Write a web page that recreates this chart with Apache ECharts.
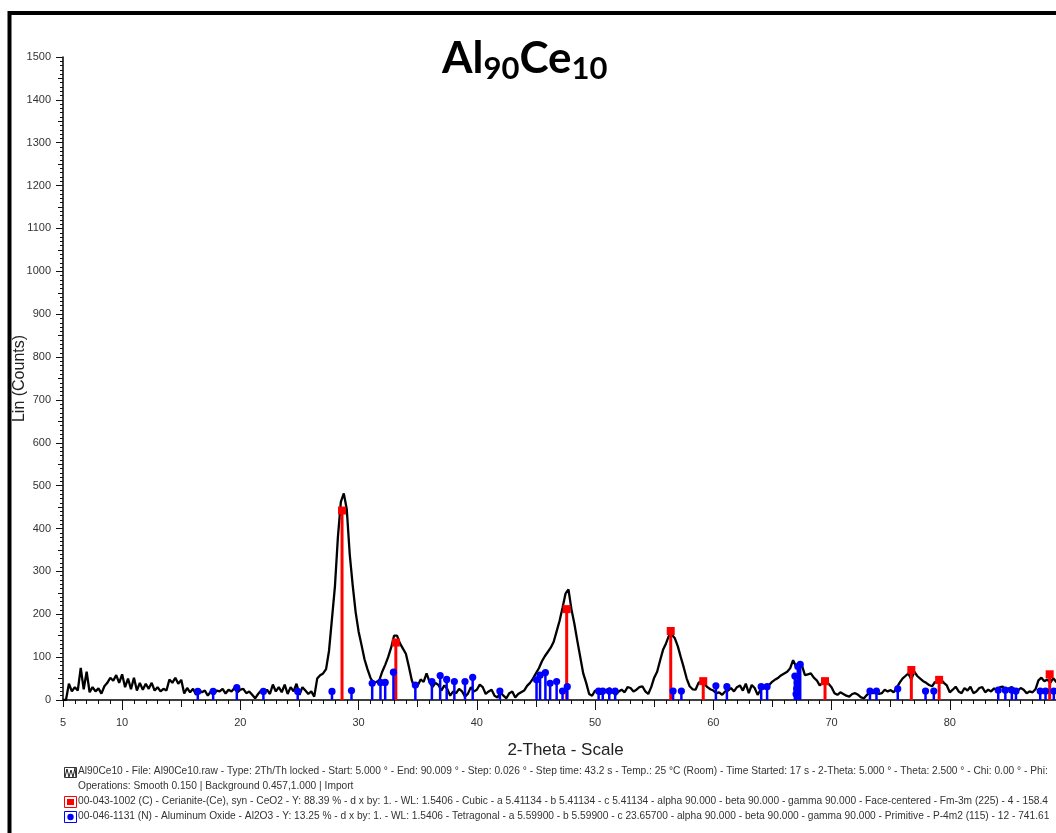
<!DOCTYPE html>
<html>
<head>
<meta charset="utf-8">
<script src="https://cdn.jsdelivr.net/npm/echarts@6/dist/echarts.min.js"></script>
<style>
html, body { margin: 0; padding: 0; background: #fff; }
#chart { width: 1056px; height: 833px; }
</style>
</head>
<body>
<div id="chart"></div>
<script>
// measured scan: 2-theta from scanStart in steps of scanStep
var scanStart = 5
var scanStep = 0.25
var scanCounts = [
    0, 0, 38, 20,        // 5
    30, 22, 75, 25,      // 6
    66, 18, 30, 20,      // 7
    27, 15, 32, 40,      // 8
    52, 45, 58, 40,      // 9
    60, 30, 50, 25,      // 10
    52, 22, 40, 24,      // 11
    38, 26, 40, 22,      // 12
    30, 20, 26, 22,      // 13
    48, 40, 52, 38,      // 14
    47, 15, 28, 18,      // 15
    26, 12, 24, 18,      // 16
    22, 10, 20, 14,      // 17
    22, 20, 26, 15,      // 18
    24, 20, 28, 18,      // 19
    24, 26, 16, 20,      // 20
    12, 4, 14, 22,       // 21
    16, 24, 14, 36,      // 22
    20, 30, 18, 36,      // 23
    14, 30, 20, 38,      // 24
    12, 30, 22, 14,      // 25
    20, 8, 50, 58,       // 26
    62, 72, 115, 190,    // 27
    265, 380, 462, 482,  // 28
    445, 340, 268, 205,  // 29
    160, 128, 95, 72,    // 30
    52, 40, 42, 46,      // 31
    66, 82, 100, 122,    // 32
    150, 150, 132, 120,  // 33
    108, 78, 46, 28,     // 34
    34, 48, 42, 62,      // 35
    42, 30, 40, 35,      // 36
    22, 34, 26, 10,      // 37
    20, 16, 26, 20,      // 38
    8, 15, 30, 20,       // 39
    24, 36, 30, 14,      // 40
    20, 24, 10, 6,       // 41
    18, 10, 4, 16,       // 42
    20, 6, 14, 18,       // 43
    22, 33, 40, 50,      // 44
    62, 74, 90, 102,     // 45
    112, 122, 136, 160,  // 46
    185, 215, 248, 258,  // 47
    212, 178, 138, 100,  // 48
    62, 40, 14, 10,      // 49
    22, 18, 14, 20,      // 50
    24, 27, 18, 12,      // 51
    20, 24, 18, 30,      // 52
    28, 20, 24, 30,      // 53
    32, 20, 14, 30,      // 54
    52, 66, 92, 117,     // 55
    132, 150, 152, 144,  // 56
    125, 100, 76, 50,    // 57
    32, 25, 24, 40,      // 58
    44, 38, 30, 25,      // 59
    22, 16, 18, 12,      // 60
    20, 22, 28, 20,      // 61
    30, 34, 22, 38,      // 62
    16, 35, 28, 12,      // 63
    24, 27, 31, 36,      // 64
    43, 48, 52, 58,      // 65
    62, 66, 74, 93,      // 66
    78, 84, 80, 58,      // 67
    60, 62, 52, 46,      // 68
    34, 40, 44, 38,      // 69
    30, 16, 12, 18,      // 70
    14, 10, 8, 14,       // 71
    16, 12, 6, 4,        // 72
    12, 19, 16, 20,      // 73
    14, 16, 24, 20,      // 74
    23, 18, 28, 40,      // 75
    50, 56, 62, 48,      // 76
    66, 56, 50, 44,      // 77
    40, 35, 32, 42,      // 78
    40, 48, 40, 34,      // 79
    18, 24, 31, 20,      // 80
    16, 28, 22, 31,      // 81
    16, 20, 28, 30,      // 82
    18, 24, 20, 27,      // 83
    22, 30, 31, 22,      // 84
    27, 30, 19, 22,      // 85
    28, 24, 16, 20,      // 86
    18, 25, 46, 52,      // 87
    44, 48, 40, 51,      // 88
    42, 46, 38, 44,      // 89
    40                   // 90
]

// 00-043-1002 Cerianite (CeO2) reference lines
var ceriaAngles  = [28.6, 33.15, 47.6, 56.4, 59.15, 69.45, 76.75, 79.1, 88.45]
var ceriaHeights = [442, 134, 212, 161, 44, 44, 70, 47, 60]

// 00-046-1131 Aluminum oxide (Al2O3) reference lines
var aluminaAngles = [16.4, 17.7, 19.7, 21.95, 24.85, 27.75, 29.4, 31.15, 31.85, 32.25,
    32.95, 34.8, 36.2, 36.9, 37.45, 38.1, 39.0, 39.65, 41.95, 45.05,
    45.35, 45.8, 46.2, 46.75, 47.25, 47.65, 50.3, 50.65, 51.2, 51.7,
    56.6, 57.3, 60.22, 61.15, 64.05, 64.55, 66.9, 67.0, 67.05, 67.1,
    67.15, 67.35, 73.25, 73.8, 75.6, 77.95, 78.65, 84.1, 84.7, 85.25,
    85.6, 87.65, 88.1, 88.8]
var aluminaHeights = [20, 20, 29, 20, 20, 20, 22, 39, 41, 41,
    65, 35, 43, 57, 48, 43, 43, 53, 21, 47,
    58, 64, 39, 43, 21, 31, 21, 21, 21, 21,
    21, 21, 33, 31, 31, 31, 56, 14, 26, 40,
    78, 83, 21, 21, 26, 21, 21, 23, 23, 23,
    21, 21, 21, 21]

var xLabelValues = [5, 10, 20, 30, 40, 50, 60, 70, 80, 90]
var xMajorTicks = [10, 20, 30, 40, 50, 60, 70, 80, 90]
var xMidTicks = [5, 15, 25, 35, 45, 55, 65, 75, 85]
var yMidTicks = [50, 150, 250, 350, 450, 550, 650, 750, 850, 950, 1050, 1150, 1250, 1350, 1450]

var legendLines = [
    "Al90Ce10 - File: Al90Ce10.raw - Type: 2Th/Th locked - Start: 5.000 \u00b0 - End: 90.009 \u00b0 - Step: 0.026 \u00b0 - Step time: 43.2 s - Temp.: 25 \u00b0C (Room) - Time Started: 17 s - 2-Theta: 5.000 \u00b0 - Theta: 2.500 \u00b0 - Chi: 0.00 \u00b0 - Phi:",
    "Operations: Smooth 0.150 | Background 0.457,1.000 | Import",
    "00-043-1002 (C) - Cerianite-(Ce), syn - CeO2 - Y: 88.39 % - d x by: 1. - WL: 1.5406 - Cubic - a 5.41134 - b 5.41134 - c 5.41134 - alpha 90.000 - beta 90.000 - gamma 90.000 - Face-centered - Fm-3m (225) - 4 - 158.4",
    "00-046-1131 (N) - Aluminum Oxide - Al2O3 - Y: 13.25 % - d x by: 1. - WL: 1.5406 - Tetragonal - a 5.59900 - b 5.59900 - c 23.65700 - alpha 90.000 - beta 90.000 - gamma 90.000 - Primitive - P-4m2 (115) - 12 - 741.61"
]

var scanData = []
for (var i = 0; i < scanCounts.length; i++) {
    scanData.push([scanStart + i * scanStep, scanCounts[i]])
}
var ceriaData = []
for (var i = 0; i < ceriaAngles.length; i++) ceriaData.push([ceriaAngles[i], ceriaHeights[i]])
var aluminaData = []
for (var i = 0; i < aluminaAngles.length; i++) aluminaData.push([aluminaAngles[i], aluminaHeights[i]])

// a stick from zero up to the value, with a marker on top
function stickRenderer(marker, stickWidth) {
    return function (params, api) {
        var base = api.coord([api.value(0), 0])
        var top = api.coord([api.value(0), api.value(1)])
        var color = api.visual('color')
        var children = [{
            type: 'rect',
            shape: { x: base[0] - stickWidth / 2, y: top[1], width: stickWidth, height: base[1] - top[1] },
            style: { fill: color }
        }]
        if (marker === 'square') {
            children.push({ type: 'rect', shape: { x: top[0] - 4, y: top[1] - 4, width: 8, height: 8 }, style: { fill: color } })
        } else {
            children.push({ type: 'circle', shape: { cx: top[0], cy: top[1], r: 3.6 }, style: { fill: color } })
        }
        return { type: 'group', children: children }
    }
}

var axisFont = 'Liberation Sans'
var tickColor = '#111'

var hiddenAxis = { show: false }
var plainNumber = function (v) { return String(v) }

var graphics = [
    // outer frame
    { type: 'rect', shape: { x: 9.5, y: 13, width: 1100, height: 900 },
      style: { fill: 'none', stroke: '#000', lineWidth: 4 }, silent: true },
    // scan icon
    { type: 'rect', shape: { x: 64.5, y: 767.5, width: 12, height: 10 },
      style: { fill: '#fff', stroke: '#333', lineWidth: 1 } },
    { type: 'polyline', shape: { points: [[65, 777], [67, 769], [69, 777], [71, 770], [73, 777], [75, 768], [76, 777]] },
      style: { fill: 'none', stroke: '#222', lineWidth: 1 } },
    // ceria icon
    { type: 'rect', shape: { x: 64.5, y: 796.5, width: 12, height: 11 },
      style: { fill: '#fff', stroke: '#ff0000', lineWidth: 1 } },
    { type: 'rect', shape: { x: 67, y: 799, width: 7, height: 6 }, style: { fill: '#ff0000' } },
    // alumina icon
    { type: 'rect', shape: { x: 64.5, y: 811.5, width: 12, height: 11 },
      style: { fill: '#fff', stroke: '#0000ff', lineWidth: 1 } },
    { type: 'circle', shape: { cx: 70.5, cy: 817, r: 3.2 }, style: { fill: '#0000ff' } }
]
var legendY = [771, 786, 801.5, 816.5]
for (var i = 0; i < legendLines.length; i++) {
    graphics.push({
        type: 'text', x: 78, y: legendY[i],
        style: { text: legendLines[i], font: '10.2px "Liberation Sans"', fill: '#333', verticalAlign: 'middle' }
    })
}

var myChart = echarts.init(document.getElementById('chart'))
var option = {
    animation: false,
    backgroundColor: '#fff',
    title: {
        text: '{m|Al}{s|90}{m|Ce}{s|10}',
        left: 442,
        top: 34,
        padding: 0,
        textStyle: {
            rich: {
                m: { fontFamily: 'Lato', fontWeight: 'bold', fontSize: 44, lineHeight: 50, color: '#000' },
                s: { fontFamily: 'Lato', fontWeight: 'bold', fontSize: 31, lineHeight: 28, color: '#000', verticalAlign: 'bottom' }
            }
        }
    },
    grid: { left: 63, right: -12, top: 57, bottom: 133, outerBoundsMode: 'none', containLabel: false },
    xAxis: [
        {
            type: 'value', position: 'bottom', min: 5, max: 90, interval: 1,
            name: '2-Theta - Scale', nameLocation: 'middle', nameGap: 42, nameMoveOverlap: false,
            nameTextStyle: { fontFamily: axisFont, fontSize: 17, color: '#222' },
            axisLine: { lineStyle: { color: '#000', width: 1.5 } },
            axisTick: { length: 4, lineStyle: { color: tickColor } },
            axisLabel: { show: false },
            splitLine: { show: false }
        },
        {
            type: 'value', position: 'bottom', min: 5, max: 90,
            axisLine: hiddenAxis,
            axisTick: { customValues: xMidTicks, length: 7, lineStyle: { color: tickColor } },
            axisLabel: { show: false },
            splitLine: { show: false }
        },
        {
            type: 'value', position: 'bottom', min: 5, max: 90,
            axisLine: hiddenAxis,
            axisTick: { customValues: xMajorTicks, length: 10, lineStyle: { color: tickColor } },
            axisLabel: { customValues: xLabelValues, margin: 17, fontFamily: axisFont, fontSize: 11, color: '#333', formatter: plainNumber },
            splitLine: { show: false }
        }
    ],
    yAxis: [
        {
            type: 'value', position: 'left', min: 0, max: 1500, interval: 100,
            name: 'Lin (Counts)', nameLocation: 'middle', nameGap: 35, nameMoveOverlap: false,
            nameTextStyle: { fontFamily: axisFont, fontSize: 16, color: '#222' },
            axisLine: { show: true, lineStyle: { color: '#000', width: 1.5 } },
            axisTick: { show: true, length: 7, lineStyle: { color: tickColor } },
            minorTick: { show: true, splitNumber: 10, length: 3, lineStyle: { color: tickColor } },
            axisLabel: { margin: 12, fontFamily: axisFont, fontSize: 11, color: '#333', formatter: plainNumber },
            splitLine: { show: false }
        },
        {
            type: 'value', position: 'left', min: 0, max: 1500,
            axisLine: hiddenAxis,
            axisTick: { show: true, customValues: yMidTicks, length: 5, lineStyle: { color: tickColor } },
            axisLabel: { show: false },
            splitLine: { show: false }
        }
    ],
    series: [
        {
            name: 'Al90Ce10',
            type: 'line',
            data: scanData,
            showSymbol: false,
            lineStyle: { color: '#000', width: 2.3 },
            z: 2
        },
        {
            name: 'Cerianite',
            type: 'custom',
            data: ceriaData,
            itemStyle: { color: '#ff0000' },
            renderItem: stickRenderer('square', 3),
            z: 3
        },
        {
            name: 'Aluminum Oxide',
            type: 'custom',
            data: aluminaData,
            itemStyle: { color: '#0000ff' },
            renderItem: stickRenderer('circle', 2.5),
            z: 4
        }
    ],
    graphic: graphics
}
myChart.setOption(option)
</script>
</body>
</html>
